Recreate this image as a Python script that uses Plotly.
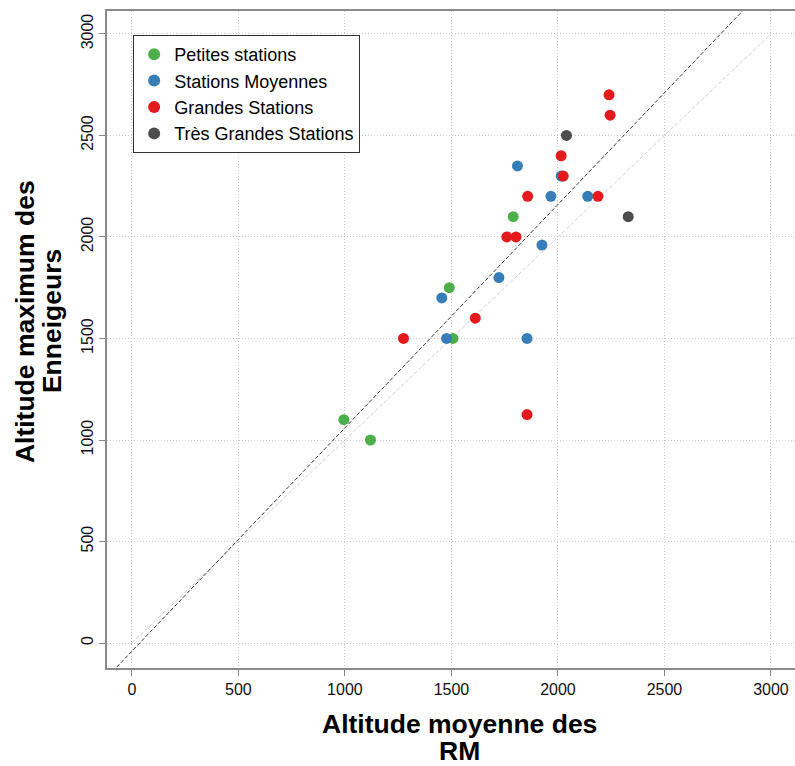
import plotly.graph_objects as go

# ---- data ----
series_names = ["Petites stations", "Stations Moyennes", "Grandes Stations", "Très Grandes Stations"]
series_colors = ["#4DAF4A", "#377EB8", "#E41A1C", "#4D4D4D"]

petites_x = [1790, 1490, 1507, 995, 1120]
petites_y = [2100, 1750, 1500, 1100, 1000]

moyennes_x = [1810, 2015, 1967, 2140, 1925, 1723, 1455, 1477, 1855]
moyennes_y = [2350, 2300, 2200, 2200, 1960, 1800, 1700, 1500, 1500]

grandes_x = [2240, 2245, 2015, 2025, 1858, 2188, 1760, 1803, 1612, 1275, 1855]
grandes_y = [2700, 2600, 2400, 2300, 2200, 2200, 2000, 2000, 1600, 1500, 1125]

tres_x = [2040, 2330]
tres_y = [2500, 2100]

# fitted line (y = slope * x + intercept)
fit_slope = 1.10
fit_intercept = -40
fit_x = [-130, 2900]

# identity reference line
ident_x = [0, 3000]
ident_y = [0, 3000]

tick_vals = [0, 500, 1000, 1500, 2000, 2500, 3000]
tick_text = ["0", "500", "1000", "1500", "2000", "2500", "3000"]

x_title_lines = ["Altitude moyenne des", "RM"]
y_title_lines = ["Altitude maximum des", "Enneigeurs"]

x_range = [-117, 3113]
y_range = [-123, 3113]

xs = [petites_x, moyennes_x, grandes_x, tres_x]
ys = [petites_y, moyennes_y, grandes_y, tres_y]

fig = go.Figure()

fig.add_trace(go.Scatter(x=ident_x, y=ident_y, mode="lines",
                         line=dict(color="#d0d0d0", width=1, dash="4px,2px"),
                         showlegend=False, hoverinfo="skip"))
fig.add_trace(go.Scatter(x=fit_x, y=[fit_slope * v + fit_intercept for v in fit_x], mode="lines",
                         line=dict(color="#3a3a3a", width=1, dash="4px,2px"),
                         showlegend=False, hoverinfo="skip"))

for name, color, xv, yv in zip(series_names, series_colors, xs, ys):
    fig.add_trace(go.Scatter(x=xv, y=yv, mode="markers", name=name,
                             marker=dict(color=color, size=11, line=dict(width=0))))

axis_common = dict(
    tickmode="array", tickvals=tick_vals, ticktext=tick_text,
    showgrid=True, gridcolor="#cccccc", griddash="1px,2px", gridwidth=1,
    zeroline=False, showline=True, linecolor="#8a8a8a", linewidth=2,
    ticks="outside", ticklen=6, tickcolor="#8a8a8a", tickwidth=1,
    tickfont=dict(family="Liberation Sans, Arial", size=16, color="#111111"),
    automargin=False,
)

fig.update_xaxes(range=x_range, mirror=True, **axis_common)
fig.update_yaxes(range=y_range, tickangle=-90, **axis_common)

title_font = dict(family="Liberation Sans, Arial", size=26.5, color="#000000")
annotations = [
    dict(text="<b>%s</b>" % x_title_lines[0], xref="paper", yref="paper",
         x=0.513, y=-0.0858, xanchor="center", yanchor="middle", showarrow=False, font=title_font),
    dict(text="<b>%s</b>" % x_title_lines[1], xref="paper", yref="paper",
         x=0.513, y=-0.1264, xanchor="center", yanchor="middle", showarrow=False, font=title_font),
    dict(text="<b>%s</b>" % y_title_lines[0], xref="paper", yref="paper",
         x=-0.1192, y=0.528, xanchor="center", yanchor="middle", showarrow=False,
         textangle=-90, font=title_font),
    dict(text="<b>%s</b>" % y_title_lines[1], xref="paper", yref="paper",
         x=-0.0800, y=0.528, xanchor="center", yanchor="middle", showarrow=False,
         textangle=-90, font=title_font),
]

fig.update_layout(
    width=795, height=766,
    margin=dict(l=107, r=0, t=11, b=98),
    paper_bgcolor="white", plot_bgcolor="white",
    font=dict(family="Liberation Sans, Arial", color="#000000"),
    legend=dict(x=0.038, y=0.9635, xanchor="left", yanchor="top",
                bordercolor="#333333", borderwidth=1, bgcolor="white",
                font=dict(size=18, color="#000000"),
                itemsizing="constant", tracegroupgap=0),
    annotations=annotations,
)

fig.write_html("out.html", config={"displayModeBar": False},
               post_script="document.body.style.margin='0';")
